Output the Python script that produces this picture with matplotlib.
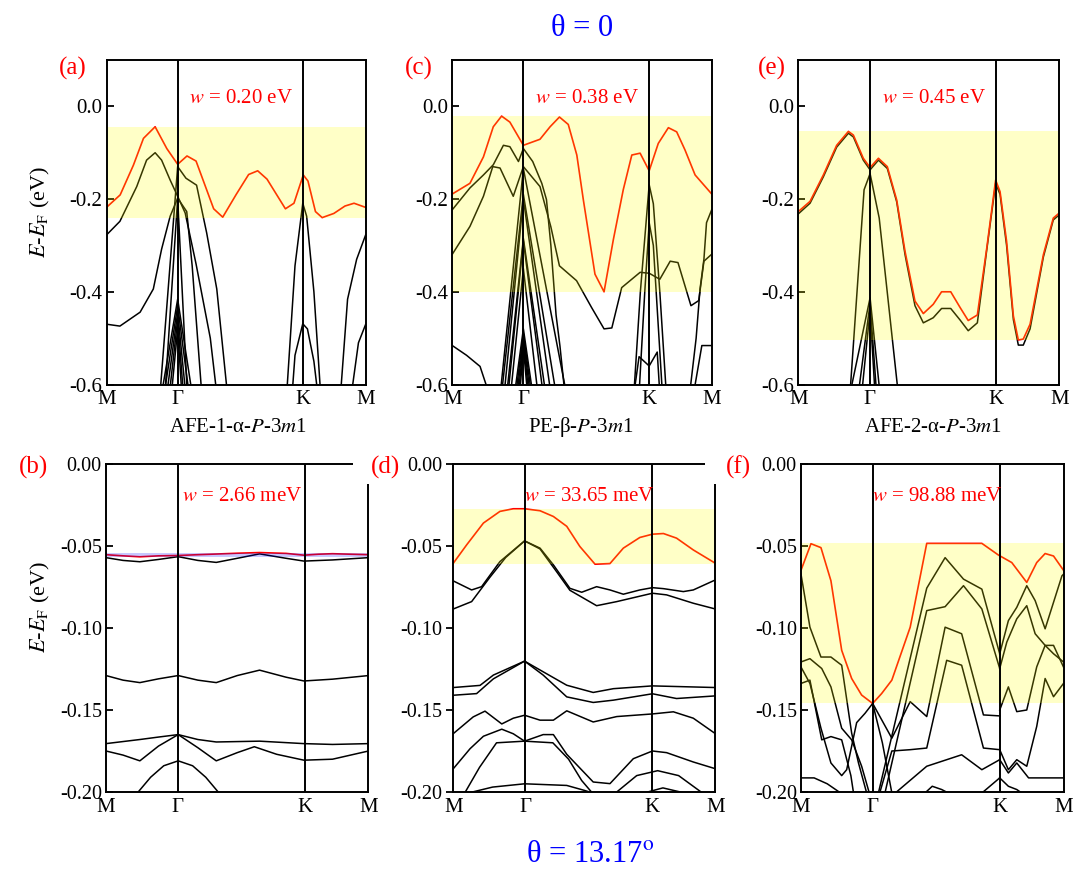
import matplotlib
matplotlib.use('Agg')
import matplotlib.pyplot as plt
from matplotlib.patches import Rectangle

plt.rcParams['font.family'] = ['Liberation Serif', 'DejaVu Serif']
plt.rcParams['mathtext.fontset'] = 'stix'

# ---------------- data ----------------
K_TICKS = [0.0, 0.274, 0.758, 1.0]
K_LABELS = ['M', 'Γ', 'K', 'M']

TOP_YTICKS = [0.0, -0.2, -0.4, -0.6]
TOP_YLABELS = ['0.0', '-0.2', '-0.4', '-0.6']
BOT_YTICKS = [0.0, -0.05, -0.10, -0.15, -0.20]
BOT_YLABELS = ['0.00', '-0.05', '-0.10', '-0.15', '-0.20']

STRUCTURES = ['AFE-1-α-$P$-3$m$1', 'PE-β-$P$-3$m$1', 'AFE-2-α-$P$-3$m$1']
WIDTHS = ['0.20 eV', '0.38 eV', '0.45 eV', '2.66 meV', '33.65 meV', '98.88 meV']
PANEL_TAGS = ['(a)', '(c)', '(e)', '(b)', '(d)', '(f)']
THETAS = ['θ = 0', 'θ = 13.17$^{\\mathrm{o}}$']

# (a) AFE-1-alpha, theta = 0
A_RED = [(0, -0.2175), (0.052, -0.191), (0.103, -0.127), (0.142, -0.069), (0.187, -0.044),
         (0.232, -0.091), (0.274, -0.125), (0.310, -0.107), (0.345, -0.118), (0.413, -0.221),
         (0.448, -0.239), (0.50, -0.19), (0.548, -0.147), (0.583, -0.139), (0.619, -0.157),
         (0.690, -0.221), (0.723, -0.209), (0.759, -0.148), (0.777, -0.161), (0.806, -0.227),
         (0.832, -0.240), (0.877, -0.231), (0.92, -0.215), (0.955, -0.209), (1.0, -0.218)]
A_BANDS = [
    [(0, -0.277), (0.051, -0.248), (0.116, -0.173), (0.154, -0.116), (0.187, -0.100), (0.212, -0.116),
     (0.245, -0.159), (0.274, -0.194), (0.303, -0.23), (0.345, -0.34), (0.40, -0.50), (0.425, -0.62)],
    [(0.206, -0.62), (0.274, -0.130), (0.306, -0.155), (0.347, -0.17), (0.386, -0.273), (0.425, -0.394),
     (0.466, -0.62)],
    [(0, -0.470), (0.051, -0.474), (0.129, -0.444), (0.18, -0.394), (0.212, -0.308), (0.245, -0.237),
     (0.274, -0.198), (0.309, -0.227), (0.33, -0.344), (0.367, -0.62)],
    [(0.225, -0.62), (0.274, -0.198), (0.311, -0.62)],
    [(0.212, -0.62), (0.274, -0.416), (0.33, -0.62)],
    [(0.222, -0.62), (0.274, -0.43), (0.318, -0.62)],
    [(0.232, -0.62), (0.274, -0.445), (0.305, -0.62)],
    [(0.242, -0.62), (0.274, -0.46), (0.296, -0.62)],
    [(0.25, -0.62), (0.274, -0.48), (0.29, -0.62)],
    [(0.695, -0.62), (0.727, -0.344), (0.757, -0.209), (0.772, -0.237), (0.80, -0.40), (0.826, -0.62)],
    [(0.716, -0.62), (0.727, -0.537), (0.757, -0.469), (0.775, -0.48), (0.80, -0.55), (0.815, -0.62)],
    [(0.903, -0.62), (0.93, -0.416), (0.965, -0.33), (1.0, -0.277)],
    [(0.945, -0.62), (0.972, -0.51), (1.0, -0.470)],
]

# (c) PE-beta, theta = 0
C_RED = [(0, -0.189), (0.068, -0.166), (0.12, -0.109), (0.158, -0.044), (0.19, -0.021), (0.222, -0.034),
         (0.274, -0.084), (0.338, -0.071), (0.377, -0.044), (0.413, -0.023), (0.447, -0.039),
         (0.48, -0.105), (0.505, -0.201), (0.55, -0.362), (0.585, -0.400), (0.621, -0.287),
         (0.659, -0.18), (0.692, -0.105), (0.724, -0.101), (0.759, -0.139), (0.794, -0.080),
         (0.833, -0.046), (0.865, -0.055), (0.897, -0.094), (0.936, -0.148), (1.0, -0.189)]
C_BANDS = [
    [(0, -0.223), (0.068, -0.176), (0.12, -0.148), (0.158, -0.126), (0.197, -0.084), (0.222, -0.087),
     (0.255, -0.119), (0.274, -0.091), (0.31, -0.119), (0.345, -0.166), (0.363, -0.201), (0.38, -0.30),
     (0.40, -0.45), (0.415, -0.517), (0.434, -0.62)],
    [(0, -0.319), (0.068, -0.259), (0.12, -0.194), (0.156, -0.130), (0.184, -0.133), (0.235, -0.194),
     (0.274, -0.130), (0.338, -0.173), (0.38, -0.26), (0.413, -0.344), (0.479, -0.376), (0.537, -0.434),
     (0.585, -0.480), (0.615, -0.478), (0.653, -0.391), (0.724, -0.358), (0.759, -0.36), (0.80, -0.373),
     (0.84, -0.334), (0.87, -0.337), (0.92, -0.430), (0.95, -0.419), (0.97, -0.334), (1.0, -0.319)],
    [(0.185, -0.62), (0.274, -0.134), (0.44, -0.62)],
    [(0.19, -0.62), (0.274, -0.19), (0.40, -0.62)],
    [(0.20, -0.62), (0.274, -0.20), (0.38, -0.62)],
    [(0.21, -0.62), (0.274, -0.285), (0.36, -0.62)],
    [(0.215, -0.62), (0.274, -0.29), (0.35, -0.62)],
    [(0.225, -0.62), (0.274, -0.35), (0.33, -0.62)],
    [(0.24, -0.62), (0.274, -0.48), (0.31, -0.62)],
    [(0.245, -0.62), (0.274, -0.49), (0.305, -0.62)],
    [(0.25, -0.62), (0.274, -0.50), (0.30, -0.62)],
    [(0.255, -0.62), (0.274, -0.51), (0.295, -0.62)],
    [(0.26, -0.62), (0.274, -0.52), (0.29, -0.62)],
    [(0.70, -0.62), (0.725, -0.40), (0.759, -0.169), (0.775, -0.21), (0.80, -0.40), (0.825, -0.62)],
    [(0.72, -0.62), (0.742, -0.40), (0.759, -0.251), (0.775, -0.30), (0.81, -0.62)],
    [(0.70, -0.62), (0.72, -0.54), (0.759, -0.56), (0.79, -0.53), (0.80, -0.62)],
    [(0.915, -0.62), (0.94, -0.50), (0.955, -0.394), (0.97, -0.33), (0.98, -0.251), (1.0, -0.223)],
    [(0, -0.516), (0.055, -0.537), (0.107, -0.561), (0.13, -0.60), (0.14, -0.62)],
    [(0.93, -0.62), (0.962, -0.516), (1.0, -0.516)],
]

# (e) AFE-2-alpha, theta = 0
E_RED = [(0, -0.227), (0.045, -0.205), (0.096, -0.148), (0.147, -0.084), (0.192, -0.054), (0.211, -0.062),
         (0.249, -0.112), (0.275, -0.132), (0.307, -0.112), (0.341, -0.130), (0.377, -0.202),
         (0.409, -0.313), (0.447, -0.420), (0.479, -0.447), (0.517, -0.427), (0.549, -0.400),
         (0.584, -0.400), (0.62, -0.434), (0.651, -0.462), (0.686, -0.450), (0.722, -0.306),
         (0.756, -0.159), (0.773, -0.184), (0.798, -0.291), (0.824, -0.452), (0.843, -0.504),
         (0.862, -0.502), (0.888, -0.470), (0.939, -0.320), (0.977, -0.241), (1.0, -0.230)]
E_BANDS = [
    [(0, -0.232), (0.045, -0.209), (0.096, -0.152), (0.147, -0.088), (0.192, -0.058), (0.211, -0.066),
     (0.249, -0.116), (0.275, -0.137), (0.307, -0.116), (0.341, -0.134), (0.377, -0.206), (0.409, -0.32),
     (0.447, -0.430), (0.479, -0.467), (0.517, -0.456), (0.549, -0.436), (0.584, -0.436), (0.62, -0.461),
     (0.651, -0.484), (0.686, -0.467), (0.722, -0.31), (0.756, -0.166), (0.773, -0.19), (0.798, -0.30),
     (0.824, -0.46), (0.843, -0.515), (0.862, -0.515), (0.888, -0.48), (0.939, -0.325), (0.977, -0.245),
     (1.0, -0.234)],
    [(0.198, -0.62), (0.252, -0.18), (0.275, -0.145), (0.31, -0.241), (0.383, -0.62)],
    [(0.198, -0.62), (0.275, -0.413), (0.313, -0.62)],
    [(0.23, -0.62), (0.275, -0.425), (0.30, -0.62)],
    [(0.243, -0.62), (0.275, -0.44), (0.294, -0.62)],
]

# (b) AFE-1-alpha, theta = 13.17
B_RED = [(0, -0.0553), (0.065, -0.0560), (0.129, -0.0566), (0.2, -0.0560), (0.275, -0.0558),
         (0.35, -0.0553), (0.42, -0.0549), (0.50, -0.0544), (0.585, -0.0540), (0.686, -0.0545),
         (0.754, -0.0556), (0.81, -0.0550), (0.863, -0.0547), (0.93, -0.0550), (1.0, -0.0553)]
B_BANDS = [
    [(0, -0.0571), (0.065, -0.0588), (0.129, -0.0596), (0.2, -0.0582), (0.275, -0.0565), (0.35, -0.0588),
     (0.42, -0.0600), (0.50, -0.0575), (0.585, -0.0548), (0.686, -0.0575), (0.754, -0.0592),
     (0.863, -0.0585), (1.0, -0.0571)],
    [(0, -0.1290), (0.065, -0.1318), (0.129, -0.1333), (0.2, -0.1310), (0.275, -0.1290), (0.35, -0.1318),
     (0.42, -0.1333), (0.50, -0.1290), (0.585, -0.1257), (0.686, -0.1300), (0.754, -0.1323),
     (0.863, -0.1312), (1.0, -0.1290)],
    [(0, -0.1705), (0.129, -0.1680), (0.2, -0.1665), (0.275, -0.1650), (0.35, -0.1680), (0.42, -0.1695),
     (0.585, -0.1690), (0.754, -0.1705), (0.863, -0.1710), (1.0, -0.1705)],
    [(0, -0.1750), (0.065, -0.1775), (0.129, -0.1810), (0.2, -0.1720), (0.275, -0.1650), (0.35, -0.1730),
     (0.42, -0.1810), (0.50, -0.1760), (0.565, -0.1724), (0.65, -0.1770), (0.754, -0.1806),
     (0.863, -0.1800), (1.0, -0.1750)],
    [(0.12, -0.2005), (0.17, -0.1910), (0.22, -0.1840), (0.275, -0.1810), (0.33, -0.1840),
     (0.38, -0.1910), (0.43, -0.2005)],
]

# (d) PE-beta, theta = 13.17
D_RED = [(0, -0.0605), (0.051, -0.0493), (0.115, -0.036), (0.178, -0.0289), (0.229, -0.0273),
         (0.272, -0.0273), (0.331, -0.0285), (0.382, -0.032), (0.433, -0.038), (0.483, -0.0503),
         (0.541, -0.0611), (0.598, -0.0607), (0.649, -0.0513), (0.712, -0.0448), (0.76, -0.0428),
         (0.802, -0.0424), (0.852, -0.0452), (0.916, -0.0524), (1.0, -0.0605)]
D_BANDS = [
    [(0, -0.0713), (0.07, -0.0768), (0.108, -0.0748), (0.178, -0.0595), (0.272, -0.0469), (0.331, -0.0513),
     (0.382, -0.0615), (0.445, -0.0758), (0.49, -0.0782), (0.547, -0.0748), (0.598, -0.0768),
     (0.649, -0.0794), (0.712, -0.0768), (0.76, -0.0754), (0.802, -0.0760), (0.878, -0.0778),
     (0.916, -0.0768), (1.0, -0.0707)],
    [(0, -0.0884), (0.07, -0.0839), (0.14, -0.0690), (0.20, -0.0570), (0.272, -0.0469), (0.331, -0.0518),
     (0.394, -0.0656), (0.445, -0.0770), (0.547, -0.0864), (0.624, -0.0839), (0.76, -0.0788),
     (0.814, -0.0798), (0.916, -0.0849), (1.0, -0.0884)],
    [(0, -0.1363), (0.102, -0.1350), (0.153, -0.1287), (0.272, -0.1202), (0.343, -0.1267),
     (0.433, -0.1349), (0.534, -0.1393), (0.611, -0.1370), (0.76, -0.1353), (1.0, -0.1363)],
    [(0, -0.1410), (0.089, -0.1400), (0.153, -0.1310), (0.272, -0.1202), (0.343, -0.1287),
     (0.433, -0.1420), (0.534, -0.1454), (0.611, -0.1440), (0.76, -0.1401), (0.852, -0.1430), (1.0, -0.1414)],
    [(0, -0.1644), (0.076, -0.1542), (0.121, -0.1507), (0.185, -0.1585), (0.229, -0.1550),
     (0.272, -0.1532), (0.331, -0.1562), (0.382, -0.1562), (0.433, -0.1505), (0.534, -0.1573),
     (0.624, -0.1540), (0.76, -0.1524), (0.840, -0.1511), (0.916, -0.1550), (1.0, -0.1644)],
    [(0, -0.1858), (0.064, -0.1736), (0.115, -0.1660), (0.185, -0.1617), (0.229, -0.1645),
     (0.272, -0.1690), (0.343, -0.1650), (0.382, -0.1650), (0.433, -0.1770), (0.534, -0.1939),
     (0.598, -0.1949), (0.687, -0.1797), (0.76, -0.1750), (0.814, -0.1760), (0.916, -0.1817),
     (1.0, -0.1858)],
    [(0.044, -0.2005), (0.10, -0.1850), (0.165, -0.1700), (0.272, -0.1690), (0.38, -0.1700),
     (0.44, -0.1800), (0.49, -0.1930), (0.53, -0.2005)],
    [(0.06, -0.2005), (0.15, -0.1970), (0.272, -0.1950), (0.433, -0.1960), (0.50, -0.1990), (0.53, -0.2005)],
    [(0.62, -0.2005), (0.70, -0.1900), (0.78, -0.1870), (0.86, -0.1900), (0.95, -0.2005)],
    [(0.73, -0.2005), (0.80, -0.1975), (0.88, -0.2005)],
]

# (f) AFE-2-alpha, theta = 13.17
F_RED = [(0, -0.0648), (0.038, -0.0486), (0.076, -0.0510), (0.114, -0.0712), (0.155, -0.1136),
         (0.193, -0.1308), (0.231, -0.1409), (0.273, -0.1460), (0.307, -0.1400), (0.346, -0.1318),
         (0.416, -0.0995), (0.479, -0.0484), (0.555, -0.0484), (0.689, -0.0484), (0.752, -0.0555),
         (0.803, -0.0601), (0.86, -0.0722), (0.898, -0.0601), (0.93, -0.0546), (0.962, -0.0561),
         (1.0, -0.0648)]
F_BANDS = [
    [(0, -0.0672), (0.034, -0.0995), (0.076, -0.1177), (0.114, -0.1177), (0.155, -0.1227),
     (0.193, -0.1641), (0.219, -0.1823), (0.25, -0.2005)],
    [(0, -0.1207), (0.034, -0.1187), (0.079, -0.1247), (0.114, -0.1359), (0.155, -0.1611),
     (0.193, -0.1682), (0.231, -0.1843), (0.26, -0.2005)],
    [(0, -0.1338), (0.034, -0.1318), (0.079, -0.1682), (0.114, -0.1662), (0.155, -0.1682),
     (0.19, -0.1900), (0.20, -0.2005)],
    [(0, -0.1238), (0.034, -0.1338), (0.076, -0.1611), (0.114, -0.1823), (0.155, -0.1900),
     (0.174, -0.1864), (0.212, -0.1577), (0.244, -0.1520), (0.273, -0.1460), (0.346, -0.1672),
     (0.416, -0.1449), (0.479, -0.1540), (0.549, -0.0995), (0.612, -0.1035), (0.695, -0.1530),
     (0.757, -0.1536)],
    [(0, -0.1914), (0.05, -0.1914), (0.10, -0.1950), (0.15, -0.2005)],
    [(0.273, -0.146), (0.31, -0.1700), (0.346, -0.2005)],
    [(0.295, -0.2005), (0.479, -0.0757), (0.549, -0.0571), (0.619, -0.0702), (0.689, -0.0763),
     (0.757, -0.1157)],
    [(0.32, -0.2005), (0.479, -0.0894), (0.549, -0.0870), (0.619, -0.0742), (0.689, -0.0884),
     (0.757, -0.1247)],
    [(0.30, -0.2005), (0.346, -0.1750), (0.416, -0.1742), (0.479, -0.1732), (0.555, -0.1197),
     (0.612, -0.1227), (0.695, -0.1732), (0.757, -0.1742)],
    [(0.36, -0.2005), (0.479, -0.1843), (0.612, -0.1773), (0.689, -0.1864), (0.757, -0.1803)],
    [(0.473, -0.2005), (0.50, -0.1965), (0.536, -0.1985), (0.56, -0.2005)],
    [(0.69, -0.2005), (0.757, -0.1914)],
    [(0.757, -0.1157), (0.79, -0.0955), (0.822, -0.0874), (0.86, -0.0742), (0.892, -0.0833),
     (0.93, -0.1005), (0.994, -0.0682), (1.0, -0.0672)],
    [(0.757, -0.1247), (0.784, -0.1086), (0.822, -0.0944), (0.86, -0.0864), (0.892, -0.1035),
     (0.93, -0.1106), (0.962, -0.1157), (1.0, -0.1207)],
    [(0.757, -0.1500), (0.79, -0.1359), (0.822, -0.1510), (0.86, -0.1500), (0.898, -0.1237),
     (0.93, -0.1106), (0.962, -0.1106), (1.0, -0.1238)],
    [(0.757, -0.1742), (0.79, -0.1864), (0.822, -0.1803), (0.86, -0.1843), (0.898, -0.1600),
     (0.93, -0.1308), (0.962, -0.1419), (1.0, -0.1338)],
    [(0.757, -0.1803), (0.79, -0.1884), (0.822, -0.1823), (0.867, -0.1914), (0.898, -0.1914),
     (1.0, -0.1914)],
    [(0.757, -0.1914), (0.79, -0.1965), (0.822, -0.1985), (0.84, -0.2005)],
]

# ---------------- figure ----------------
W, H = 1080, 886
fig = plt.figure(figsize=(W / 100, H / 100), dpi=100)


def rect(x0, y0, x1, y1):
    return [x0 / W, 1 - y1 / H, (x1 - x0) / W, (y1 - y0) / H]


def fx(px):
    return px / W


def fy(py):
    return 1 - py / H


PANELS = [
    dict(box=(106.7, 60, 365.7, 384.5), red=A_RED, bands=A_BANDS, top=True, band='yellow', tdir='in'),
    dict(box=(452.3, 60, 711.7, 384.5), red=C_RED, bands=C_BANDS, top=True, band='yellow', tdir='in'),
    dict(box=(798.3, 60, 1059.3, 384.5), red=E_RED, bands=E_BANDS, top=True, band='yellow', tdir='in'),
    dict(box=(106, 464, 368.5, 792), red=B_RED, bands=B_BANDS, top=False, band='blue', tdir='in'),
    dict(box=(453.3, 464, 715.3, 792), red=D_RED, bands=D_BANDS, top=False, band='yellow', tdir='out'),
    dict(box=(801, 464, 1063.5, 792), red=F_RED, bands=F_BANDS, top=False, band='yellow', tdir='in'),
]

axes = []
for i, p in enumerate(PANELS):
    ax = fig.add_axes(rect(*p['box']))
    axes.append(ax)
    for b in p['bands']:
        k, e = zip(*b)
        ax.plot(k, e, color='black', lw=1.1, zorder=2)
    k, e = zip(*p['red'])
    ax.plot(k, e, color='red', lw=1.2, zorder=2.5)
    ax.axhspan(min(e), max(e), color=p['band'], alpha=0.22, lw=0, zorder=3)
    for xv in K_TICKS[1:3]:
        ax.axvline(xv, color='black', lw=1.4, zorder=4)
    ax.set_xlim(0, 1)
    if p['top']:
        ax.set_ylim(-0.6, 0.1)
        ax.set_yticks(TOP_YTICKS)
        ax.set_yticklabels(TOP_YLABELS)
        ysize = 15
    else:
        ax.set_ylim(-0.2, 0.0)
        ax.set_yticks(BOT_YTICKS)
        ax.set_yticklabels(BOT_YLABELS)
        ysize = 14.5
    ax.set_xticks(K_TICKS)
    ax.set_xticklabels(K_LABELS)
    ax.tick_params(axis='x', length=0, pad=4, labelsize=15)
    ax.tick_params(axis='y', direction=p['tdir'], length=5, width=1.3, pad=3, labelsize=ysize)
    ax.minorticks_off()
    for s in ax.spines.values():
        s.set_linewidth(1.4)
        s.set_zorder(5)
    ax.text(0.52, 0.88 if p['top'] else 0.90, '$w$ = ' + WIDTHS[i], color='red', fontsize=15,
            ha='center', va='center', transform=ax.transAxes, zorder=6)

# white boxes behind panel tags (d) and (f) clipping neighbour corners
for x0, x1 in [(353, 405), (705, 755)]:
    fig.patches.append(Rectangle((fx(x0), fy(484)), (x1 - x0) / W, 36 / H, transform=fig.transFigure,
                                 facecolor='white', edgecolor='none', zorder=10))

tag_pos = [(73, 68), (419, 68), (772, 68), (33, 467), (386, 467), (738, 467)]
for tag, (tx, ty) in zip(PANEL_TAGS, tag_pos):
    fig.text(fx(tx), fy(ty), tag, color='red', fontsize=18, ha='center', va='center', zorder=11)

for s, cx in zip(STRUCTURES, [238, 581, 933]):
    fig.text(fx(cx), fy(427), s, fontsize=15, ha='center', va='center')

fig.text(fx(582), fy(29), THETAS[0], color='blue', fontsize=22, ha='center', va='center')
fig.text(fx(590), fy(855), THETAS[1], color='blue', fontsize=22, ha='center', va='center')

ylab = '$E$-$E$$_{\\mathrm{F}}$ (eV)'
fig.text(fx(40), fy(212), ylab, fontsize=16, rotation=90, ha='center', va='center')
fig.text(fx(40), fy(607), ylab, fontsize=16, rotation=90, ha='center', va='center')

fig.savefig('out.png', dpi=100)
